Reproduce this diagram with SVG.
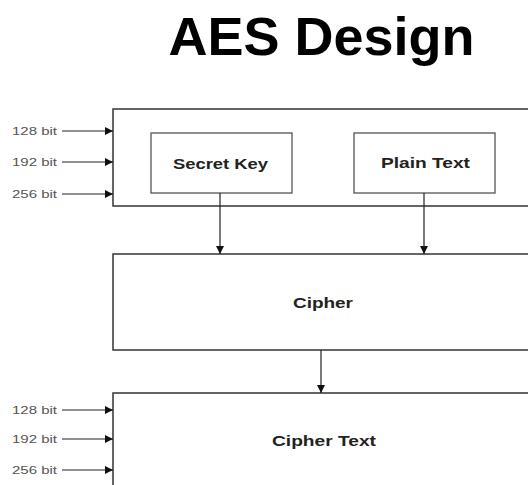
<svg xmlns="http://www.w3.org/2000/svg" width="528" height="485" viewBox="0 0 528 485">
<defs>
<marker id="ah" viewBox="0 0 10 10" refX="10" refY="5" markerWidth="8" markerHeight="8" markerUnits="userSpaceOnUse" orient="auto">
<path d="M0,0 L10,5 L0,10 z" fill="#111"/>
</marker>
</defs>
<style>
.box{fill:#fff;stroke:#333;stroke-width:1.5}
.inner{fill:#fff;stroke:#555;stroke-width:1.3}
.lbl{font-family:"Liberation Sans",Arial,sans-serif;font-weight:bold;font-size:14px;fill:#222;text-anchor:middle}
.bit{font-family:"Liberation Sans",Arial,sans-serif;font-size:10px;fill:#555}
.ln{stroke:#222;stroke-width:1.2;fill:none;marker-end:url(#ah)}
</style>
<rect width="528" height="485" fill="#fff"/>
<text id="title" x="321.5" y="55" font-family="'Liberation Sans',Arial,sans-serif" font-weight="bold" font-size="54" fill="#000" text-anchor="middle">AES Design</text>
<g id="input-box">
<rect class="box" x="113" y="109" width="420" height="97"/>
</g>
<g id="secret-key">
<rect class="inner" x="151" y="133" width="141" height="60"/>
<text class="lbl" x="220.5" y="169" textLength="95" lengthAdjust="spacingAndGlyphs">Secret Key</text>
</g>
<g id="plain-text">
<rect class="inner" x="354" y="133" width="141" height="60"/>
<text class="lbl" x="425.5" y="168" textLength="89" lengthAdjust="spacingAndGlyphs">Plain Text</text>
</g>
<g id="cipher">
<rect class="box" x="113" y="254" width="420" height="96"/>
<text class="lbl" x="323" y="308" textLength="60" lengthAdjust="spacingAndGlyphs">Cipher</text>
</g>
<g id="cipher-text">
<rect class="box" x="113" y="393" width="420" height="100"/>
<text class="lbl" x="324" y="446" textLength="104" lengthAdjust="spacingAndGlyphs">Cipher Text</text>
</g>
<g id="bit-labels">
<text class="bit" x="12" y="135" textLength="45" lengthAdjust="spacingAndGlyphs">128 bit</text>
<text class="bit" x="12" y="166" textLength="45" lengthAdjust="spacingAndGlyphs">192 bit</text>
<text class="bit" x="12" y="198" textLength="45" lengthAdjust="spacingAndGlyphs">256 bit</text>
<text class="bit" x="12" y="414" textLength="45" lengthAdjust="spacingAndGlyphs">128 bit</text>
<text class="bit" x="12" y="443" textLength="45" lengthAdjust="spacingAndGlyphs">192 bit</text>
<text class="bit" x="12" y="474" textLength="45" lengthAdjust="spacingAndGlyphs">256 bit</text>
</g>
<g id="connectors">
<line class="ln" x1="62" y1="131" x2="113" y2="131"/>
<line class="ln" x1="62" y1="162" x2="113" y2="162"/>
<line class="ln" x1="62" y1="194" x2="113" y2="194"/>
<line class="ln" x1="62" y1="410" x2="113" y2="410"/>
<line class="ln" x1="62" y1="439" x2="113" y2="439"/>
<line class="ln" x1="62" y1="470" x2="113" y2="470"/>
<line class="ln" x1="220" y1="193" x2="220" y2="254"/>
<line class="ln" x1="424" y1="193" x2="424" y2="254"/>
<line class="ln" x1="321" y1="350" x2="321" y2="393"/>
</g>
</svg>
